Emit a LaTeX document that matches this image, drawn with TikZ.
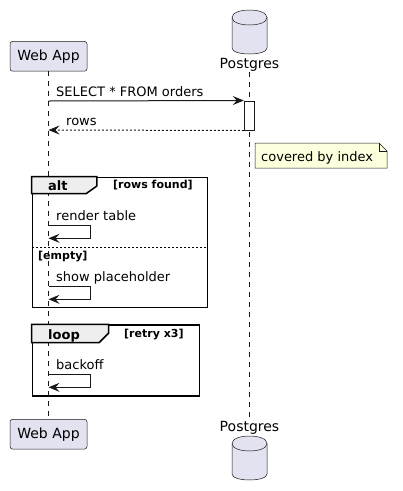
\documentclass[tikz,border=0pt]{standalone}
\usepackage{fontspec}
\setmainfont{DejaVu Sans}
\usetikzlibrary{arrows.meta,positioning}

\definecolor{linecol}{HTML}{181818}
\definecolor{partfill}{HTML}{E2E2F0}
\definecolor{notefill}{HTML}{FEFFDD}
\definecolor{tabfill}{HTML}{EEEEEE}

\newcommand{\msgfont}{\fontsize{13}{15}\selectfont}
\newcommand{\partfont}{\fontsize{14}{16}\selectfont}
\newcommand{\kindfont}{\fontsize{13}{15}\selectfont\bfseries}
\newcommand{\guardfont}{\fontsize{11}{13}\selectfont\bfseries}

\tikzset{
  participant/.style={draw=linecol, fill=partfill, line width=0.5pt, rounded corners=2.5pt,
    minimum width=77pt, minimum height=29.7pt, inner sep=0pt, font=\partfont},
  dblabel/.style={anchor=base, inner sep=0pt, font=\partfont},
  dbbody/.style={draw=linecol, fill=partfill, line width=0.5pt},
  lifeline/.style={draw=linecol, line width=0.5pt, dash pattern=on 5pt off 5pt},
  msg/.style={draw=linecol, line width=1pt, -{Stealth[length=11pt,width=9pt,inset=4pt]}},
  retmsg/.style={msg, dash pattern=on 2pt off 2pt},
  msglabel/.style={anchor=base west, inner sep=0pt, font=\msgfont},
  actbox/.style={draw=linecol, fill=white, line width=1pt, minimum width=10.4pt,
    minimum height=29pt, inner sep=0pt},
  frame/.style={draw=black, line width=1.5pt, inner sep=0pt},
  tab/.style={draw=black, fill=tabfill, line width=1.5pt, line join=miter},
  kindlabel/.style={anchor=base west, inner sep=0pt, font=\kindfont},
  guardlabel/.style={anchor=base west, inner sep=0pt, font=\guardfont},
  altsep/.style={draw=black, line width=1pt, dash pattern=on 2pt off 2pt},
  notebox/.style={draw=linecol, fill=notefill, line width=0.5pt, line join=miter}
}

\begin{document}
\begin{tikzpicture}[x=1pt,y=-1pt]
  \useasboundingbox (0,0) rectangle (403,491);

  % participants
  \node[participant] (webtop) at (48.5,56.3) {Web App};
  \node[participant] (webbot) at (48.5,434.2) {Web App};
  \node[dblabel] (pgtop) at (249.5,68.5) {Postgres};
  \node[dblabel] (pgbot) at (249.5,431.2) {Postgres};

  % database symbols
  \foreach \dy in {0,426} {
    \draw[dbbody] (232,17.5+\dy) .. controls (232,7.5+\dy) and (267,7.5+\dy) .. (267,17.5+\dy)
      -- (267,48+\dy) .. controls (267,56+\dy) and (232,56+\dy) .. (232,48+\dy) -- cycle;
    \draw[dbbody, fill=none] (232,17.5+\dy) .. controls (232,27.5+\dy) and (267,27.5+\dy) .. (267,17.5+\dy);
  }

  % lifelines
  \draw[lifeline] (webtop.south) -- (webbot.north);
  \draw[lifeline] (249.5,72) -- (249.5,418);

  % points on the web app lifeline
  \coordinate (w1) at (48.5,101);
  \coordinate (w2) at (48.5,130);
  \coordinate (r1a) at (48.5,225.3);
  \coordinate (r1b) at (48.5,238.3);
  \coordinate (r2a) at (48.5,286.3);
  \coordinate (r2b) at (48.5,299.3);
  \coordinate (r3a) at (48.5,374.3);
  \coordinate (r3b) at (48.5,387.3);

  % query and reply
  \node[actbox] (act) at (249.5,115.5) {};
  \draw[msg] (w1) -- (act.north west);
  \node[msglabel] (select) at (56,96.5) {SELECT * FROM orders};
  \draw[retmsg] (act.south west) -- (w2);
  \node[msglabel] (rows) at (66,125.5) {rows};

  % note
  \draw[notebox] (255,143) -- (379,143) -- (387,151) -- (387,168) -- (255,168) -- cycle;
  \draw[notebox, fill=none] (379,143) -- (379,151) -- (387,151);
  \node[msglabel] (covered) at (261,161.3) {covered by index};

  % alt block
  \node[frame, minimum width=175pt, minimum height=130pt] (alt) at (119.8,242.3) {};
  \draw[tab] (alt.north west) -- ++(65.4,0) -- ++(0,9.4) -- ++(-10.7,7.6) -- ++(-54.7,0) -- cycle;
  \node[kindlabel] (altkind) at (48,190.7) {alt};
  \node[guardlabel] (found) at (113,188.7) {[rows found]};
  \node[msglabel] (render) at (56,220.7) {render table};
  \draw[msg] (r1a) -- ++(41.5,0) |- (r1b);
  \draw[altsep] (32.3,247.3) -- (207.3,247.3);
  \node[guardlabel] (empty) at (38,259.3) {[empty]};
  \node[msglabel] (placeholder) at (56,281.7) {show placeholder};
  \draw[msg] (r2a) -- ++(41.5,0) |- (r2b);

  % loop block
  \node[frame, minimum width=167pt, minimum height=71pt] (loop) at (115.8,360.5) {};
  \draw[tab] (loop.north west) -- ++(77,0) -- ++(0,9) -- ++(-9.3,9.3) -- ++(-67.7,0) -- cycle;
  \node[kindlabel] (loopkind) at (48,339.2) {loop};
  \node[guardlabel] (retry) at (124,337.7) {[retry x3]};
  \node[msglabel] (backoff) at (56,369.5) {backoff};
  \draw[msg] (r3a) -- ++(41.5,0) |- (r3b);
\end{tikzpicture}
\end{document}
